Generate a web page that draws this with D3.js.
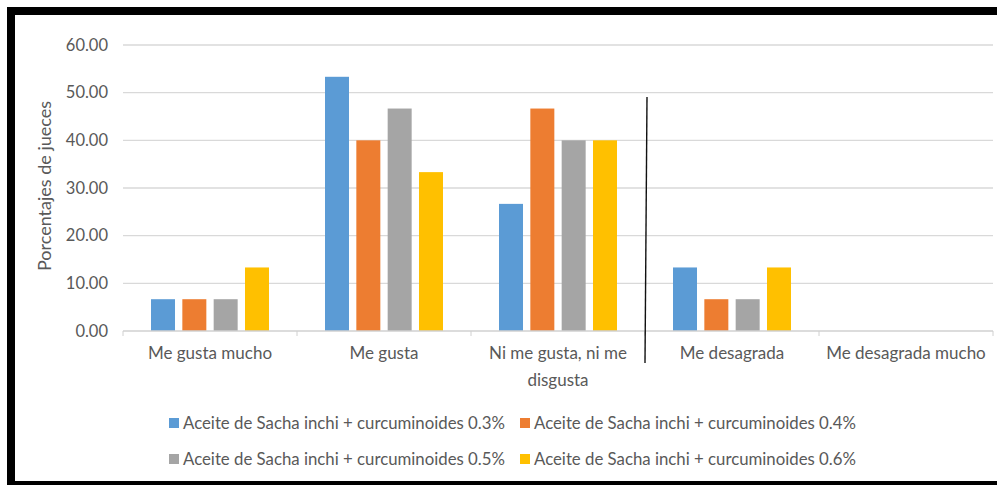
<!DOCTYPE html>
<meta charset="utf-8">
<script src="https://d3js.org/d3.v7.min.js"></script>
<style>
  body { margin: 0; background: #fff; overflow: hidden; }
  text { font-family: Lato, "Noto Sans", sans-serif; fill: #595959; }
</style>
<body>
<div id="chart"></div>
<script>
// categories (Likert scale) and one array per series, % of 15 judges
var categories = ["Me gusta mucho", "Me gusta", "Ni me gusta, ni me disgusta", "Me desagrada", "Me desagrada mucho"];
var catLines = [["Me gusta mucho"], ["Me gusta"], ["Ni me gusta, ni me", "disgusta"], ["Me desagrada"], ["Me desagrada mucho"]];
var seriesNames = [
  "Aceite de Sacha inchi + curcuminoides 0.3%",
  "Aceite de Sacha inchi + curcuminoides 0.4%",
  "Aceite de Sacha inchi + curcuminoides 0.5%",
  "Aceite de Sacha inchi + curcuminoides 0.6%"
];
var s03 = [6.67, 53.33, 26.67, 13.33, 0];
var s04 = [6.67, 40.00, 46.67, 6.67, 0];
var s05 = [6.67, 46.67, 40.00, 6.67, 0];
var s06 = [13.33, 33.33, 40.00, 13.33, 0];
var yTicks = [0, 10, 20, 30, 40, 50, 60];
var colors = ["#5B9BD5", "#ED7D31", "#A5A5A5", "#FFC000"];

var allSeries = [s03, s04, s05, s06];

var W = 997, H = 485;
var margin = {top: 45, right: 4, bottom: 154, left: 123};
var width = W - margin.left - margin.right,
    height = H - margin.top - margin.bottom;

var svg = d3.select("#chart").append("svg")
  .attr("width", W).attr("height", H)
  .style("display", "block");

// black frame of the screenshot (right side is cut off)
var frame = svg.append("g").attr("stroke", "#000").attr("stroke-width", 8);
frame.append("line").attr("x1", 7).attr("x2", W).attr("y1", 11).attr("y2", 11);
frame.append("line").attr("x1", 11).attr("x2", 11).attr("y1", 7).attr("y2", H);
frame.append("line").attr("x1", 7).attr("x2", W).attr("y1", 485).attr("y2", 485);

var g = svg.append("g")
  .attr("transform", "translate(" + margin.left + "," + margin.top + ")");

var x0 = d3.scaleBand().domain(categories).range([0, width]).padding(0);
var x1 = d3.scaleBand().domain(d3.range(4)).range([0, x0.bandwidth()])
  .paddingInner(0.234).paddingOuter(0.894);
var y = d3.scaleLinear().domain([0, 60]).range([height, 0]);

// gridlines
g.append("g").selectAll("line")
  .data(yTicks.slice(1))
  .enter().append("line")
  .attr("x1", 0).attr("x2", width)
  .attr("y1", function(d) { return y(d); })
  .attr("y2", function(d) { return y(d); })
  .attr("stroke", "#d9d9d9").attr("stroke-width", 1.3);

// y tick labels
g.append("g").selectAll("text")
  .data(yTicks)
  .enter().append("text")
  .attr("x", -15)
  .attr("y", function(d) { return y(d); })
  .attr("dy", "0.35em")
  .attr("text-anchor", "end")
  .style("font-size", "16.5px")
  .text(function(d) { return d3.format(".2f")(d); });

// bars
var groups = g.selectAll(".grp")
  .data(categories)
  .enter().append("g")
  .attr("transform", function(d) { return "translate(" + x0(d) + ",0)"; });

groups.selectAll("rect")
  .data(function(c, i) { return allSeries.map(function(s, k) { return {k: k, v: s[i]}; }); })
  .enter().append("rect")
  .attr("x", function(d) { return x1(d.k); })
  .attr("y", function(d) { return y(d.v); })
  .attr("width", x1.bandwidth())
  .attr("height", function(d) { return height - y(d.v); })
  .attr("fill", function(d) { return colors[d.k]; });

// category axis
var xAxis = g.append("g").attr("transform", "translate(0," + height + ")");
xAxis.append("line")
  .attr("x1", 0).attr("x2", width)
  .attr("stroke", "#d0d0d0").attr("stroke-width", 1.3);
xAxis.selectAll(".tk")
  .data(categories.concat(["end"]))
  .enter().append("line")
  .attr("x1", function(d, i) { return i * x0.step(); })
  .attr("x2", function(d, i) { return i * x0.step(); })
  .attr("y1", 0).attr("y2", 5)
  .attr("stroke", "#d0d0d0");

xAxis.selectAll(".lbl")
  .data(categories)
  .enter().append("text")
  .attr("x", function(d) { return x0(d) + x0.bandwidth() / 2; })
  .attr("y", 22)
  .attr("text-anchor", "middle")
  .style("font-size", "17px")
  .each(function(d, i) {
    var t = d3.select(this);
    catLines[i].forEach(function(line, j) {
      t.append("tspan")
        .attr("x", x0(d) + x0.bandwidth() / 2)
        .attr("dy", j === 0 ? "0.35em" : 27)
        .text(line);
    });
  });

// y axis title
svg.append("text")
  .attr("transform", "translate(45,186) rotate(-90)")
  .attr("text-anchor", "middle")
  .attr("dy", "0.35em")
  .style("font-size", "18px")
  .text("Porcentajes de jueces");

// hand-drawn divider between "Ni me gusta" and "Me desagrada"
var divX = margin.left + x0(categories[3]);
svg.append("line")
  .attr("x1", divX + 2).attr("y1", 97)
  .attr("x2", divX).attr("y2", 363)
  .attr("stroke", "#111").attr("stroke-width", 1.4);

// legend, 2 x 2
var legX = [169, 520], legY = [423, 459];
var leg = svg.append("g").selectAll("g")
  .data(seriesNames)
  .enter().append("g")
  .attr("transform", function(d, i) { return "translate(" + legX[i % 2] + "," + legY[Math.floor(i / 2)] + ")"; });
leg.append("rect")
  .attr("x", 0).attr("y", -5)
  .attr("width", 10).attr("height", 10)
  .attr("fill", function(d, i) { return colors[i]; });
leg.append("text")
  .attr("x", 14)
  .attr("dy", "0.35em")
  .style("font-size", "16.8px")
  .text(function(d) { return d; });
</script>
</body>
